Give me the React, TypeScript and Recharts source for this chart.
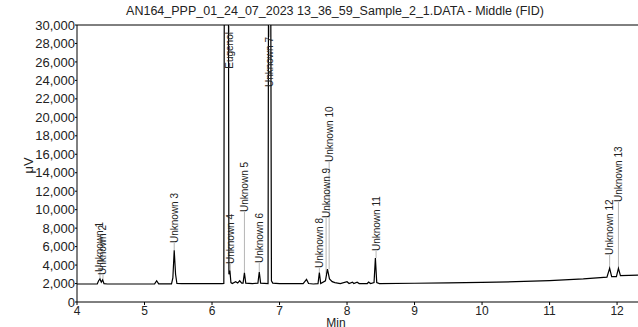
import React from 'react';
import { LineChart, Line, XAxis, YAxis, ReferenceLine, ReferenceDot } from 'recharts';

// chromatogram trace (min, µV)
const times = [
  4.0, 4.3, 4.32, 4.34, 4.36, 4.38, 4.4, 4.45, 5.15, 5.18, 5.21, 5.4, 5.42, 5.44, 5.46, 5.48, 5.55,
  6.15, 6.175, 6.185, 6.24, 6.25, 6.265, 6.28, 6.3, 6.35, 6.38, 6.41, 6.44, 6.46, 6.48, 6.5, 6.6,
  6.68, 6.7, 6.72, 6.83, 6.84, 6.865, 6.88, 6.9, 7.0, 7.35, 7.4, 7.43, 7.5, 7.57, 7.59, 7.61, 7.68,
  7.71, 7.74, 7.78, 7.82, 7.9, 8.0, 8.03, 8.08, 8.1, 8.15, 8.18, 8.3, 8.32, 8.35, 8.4, 8.42, 8.44,
  8.48, 9.0, 9.5, 10.0, 10.5, 11.0, 11.5, 11.85, 11.89, 11.92, 11.99, 12.02, 12.05, 12.31,
];
const signal = [
  1950, 1960, 2300, 2500, 2150, 2400, 1980, 1950, 1960, 2300, 1960, 1960, 2600, 5600, 3000, 2000, 1980,
  1980, 2000, 50000, 50000, 3000, 3400, 2100, 2000, 2200, 2050, 2300, 2050, 2050, 3150, 2050, 2000,
  2050, 3250, 2050, 2000, 50000, 50000, 2300, 2050, 1980, 2000, 2450, 2000, 1950, 1980, 3200, 2000, 2300,
  3550, 2500, 2200, 2100, 2000, 2200, 2000, 2150, 2000, 2150, 2000, 2000, 2150, 2000, 2100, 4750, 2100,
  2000, 2030, 2080, 2120, 2200, 2320, 2500, 2700, 3650, 2750, 2750, 3650, 2850, 2920,
];

// peak annotations
const peakNames = [
  'Unknown 1', 'Unknown 2', 'Unknown 3', 'Eugenol', 'Unknown 4', 'Unknown 5', 'Unknown 6',
  'Unknown 7', 'Unknown 8', 'Unknown 9', 'Unknown 10', 'Unknown 11', 'Unknown 12', 'Unknown 13',
];
const peakTimes = [4.34, 4.385, 5.44, 6.255, 6.27, 6.48, 6.7, 6.855, 7.59, 7.69, 7.735, 8.43, 11.89, 12.02];
const peakTops = [2500, 2400, 5600, 30000, 3400, 3150, 3250, 30000, 3200, 3000, 3550, 4750, 3650, 3650];
const labelLevels = [3250, 2920, 6390, 29240, 4115, 9750, 4220, 28700, 3680, 9100, 15160, 5520, 5090, 10830];
const hanging = [false, false, false, true, false, false, false, true, false, false, false, false, false, false];

const xTicks = [4, 5, 6, 7, 8, 9, 10, 11, 12];
const yTicks = [0, 2000, 4000, 6000, 8000, 10000, 12000, 14000, 16000, 18000, 20000, 22000, 24000, 26000, 28000, 30000];

const data = times.map((t, i) => ({ t, v: signal[i] }));

const FONT = '"Liberation Sans", Arial, sans-serif';

export default function App() {
  return (
    <div style={{ position: 'absolute', left: 0, top: 0, width: 638, height: 327, background: '#fff', fontFamily: FONT }}>
      <LineChart width={638} height={327} data={data} margin={{ top: 25, right: 0, bottom: 0, left: 0 }}>
        <XAxis
          dataKey="t"
          type="number"
          domain={[4, 12.31]}
          ticks={xTicks}
          interval={0}
          allowDataOverflow
          height={25}
          tickSize={3}
          tickMargin={1}
          axisLine={{ stroke: '#000' }}
          tickLine={{ stroke: '#000' }}
          tick={{ fontSize: 12, fill: '#222', fontFamily: FONT }}
        />
        <YAxis
          type="number"
          domain={[0, 30000]}
          ticks={yTicks}
          interval={0}
          allowDataOverflow
          width={77}
          tickSize={2}
          tickMargin={0}
          tickFormatter={(v: number) => v.toLocaleString('en-US')}
          axisLine={{ stroke: '#000' }}
          tickLine={{ stroke: '#000' }}
          tick={{ fontSize: 13, fill: '#222', fontFamily: FONT }}
        />
        <ReferenceLine y={30000} stroke="#000" />
        {peakNames.map((name, i) => (
          <ReferenceLine
            key={'c' + name}
            segment={[{ x: peakTimes[i], y: peakTops[i] }, { x: peakTimes[i], y: labelLevels[i] }]}
            stroke="#b5b5b5"
          />
        ))}
        <Line
          type="linear"
          dataKey="v"
          stroke="#000"
          strokeWidth={1.2}
          dot={false}
          isAnimationActive={false}
        />
        {peakNames.map((name, i) => (
          <ReferenceDot
            key={'l' + name}
            x={peakTimes[i]}
            y={labelLevels[i]}
            r={0}
            shape={(p: any) => (
              <text
                x={p.cx}
                y={p.cy}
                transform={`rotate(-90 ${p.cx} ${p.cy})`}
                textAnchor={hanging[i] ? 'end' : 'start'}
                dominantBaseline="central"
                fontSize={10}
                fontFamily={FONT}
                fill="#222"
              >
                {name}
              </text>
            )}
          />
        ))}
      </LineChart>
      <div style={{ position: 'absolute', left: 0, width: 670, top: 4, textAlign: 'center', fontSize: 12.5, color: '#222', whiteSpace: 'nowrap' }}>
        AN164_PPP_01_24_07_2023 13_36_59_Sample_2_1.DATA - Middle (FID)
      </div>
      <div style={{ position: 'absolute', left: 316, width: 40, top: 316, textAlign: 'center', fontSize: 12, color: '#222' }}>
        Min
      </div>
      <div style={{ position: 'absolute', left: 8, width: 40, top: 158, textAlign: 'center', fontSize: 13, color: '#222', transform: 'rotate(-90deg)' }}>
        μV
      </div>
    </div>
  );
}
